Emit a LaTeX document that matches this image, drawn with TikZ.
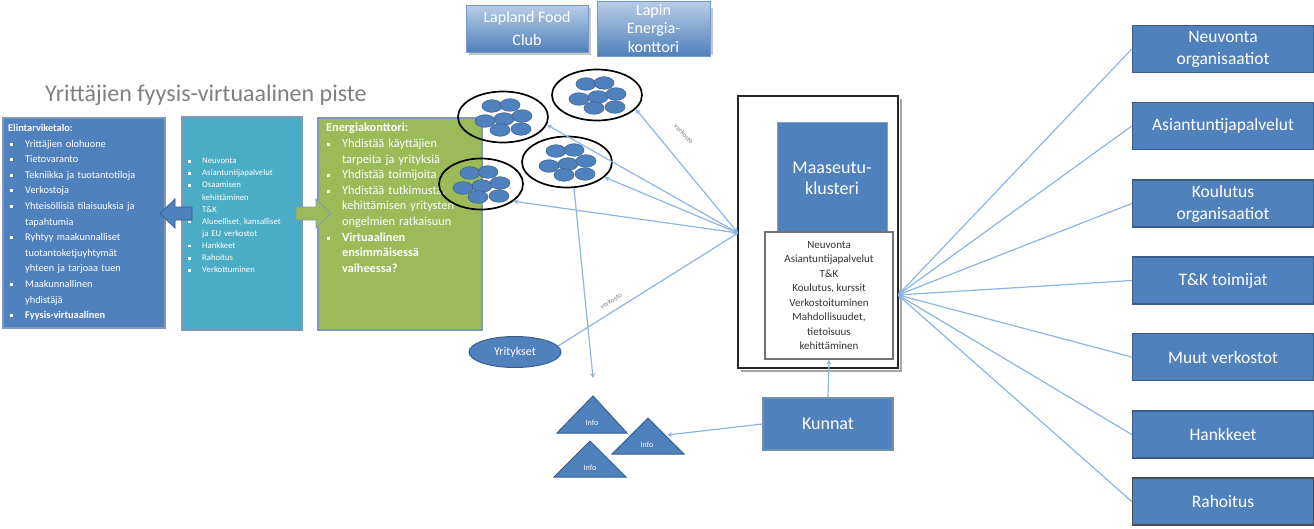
\documentclass[tikz,border=0pt]{standalone}
\usepackage{fontspec}
\setmainfont{Carlito}
\usetikzlibrary{arrows.meta,shapes.geometric}
\definecolor{obl}{HTML}{4F81BD}
\definecolor{obd}{HTML}{385D8A}
\definecolor{ocy}{HTML}{4BACC6}
\definecolor{ogr}{HTML}{9BBB59}
\definecolor{lnk}{HTML}{8EB4E3}
\definecolor{bdr}{HTML}{7F98B8}
\definecolor{ttl}{HTML}{7F7F7F}
\newcommand{\bul}{\makebox[17pt][l]{\hspace{2pt}\rule[1.5pt]{3pt}{3pt}}}
\newcommand{\cbul}{\hspace*{17pt}}
\newcommand{\mbul}{\makebox[15pt][l]{\hspace{1pt}\rule[1pt]{2.5pt}{2.5pt}}}
\newcommand{\mcont}{\hspace*{15pt}}
\newcommand{\gbul}{\makebox[16pt][l]{\hspace{1pt}\rule[1.5pt]{3pt}{3pt}}}
\newcommand{\gcont}{\hspace*{16pt}}
\begin{document}
\begin{tikzpicture}[x=1pt,y=-1pt,
  bigbox/.style={draw=bdr,line width=1.5pt},
  rbox/.style={fill=obl,draw=obd,line width=1.5pt,text=white,align=center,
    minimum width=181pt,minimum height=47pt,inner sep=2pt,font=\fontsize{17.5}{22}\selectfont},
  lnkline/.style={draw=lnk,line width=1.2pt},
  tipend/.style={-{Stealth[length=5pt,width=5pt]}},
  bothend/.style={{Stealth[length=5pt,width=5pt]}-{Stealth[length=5pt,width=5pt]}},
  clus/.style={draw=black,line width=1.7pt,ellipse,minimum width=90pt,minimum height=51pt,inner sep=0pt},
  small/.style={fill=obl,draw=obd,line width=0.5pt},
  tri/.style={fill=obl,draw=obd,line width=1pt},
  infot/.style={text=white,font=\fontsize{8}{9}\selectfont},
  lbl/.style={text=ttl,font=\fontsize{7}{8}\selectfont},
  cluster/.pic={
    \foreach \dx/\dy in {-11/-11,7/-12,-18/4,1/2,19/-1,-3/13,18/12}
      \filldraw[small] (\dx,\dy) ellipse [x radius=10pt, y radius=6.3pt];
  }]
\useasboundingbox (0,0) rectangle (1314,528);

% title
\node[anchor=west,text=ttl,font=\fontsize{24}{26}\selectfont,inner sep=0pt] (title) at (45,95) {Yrittäjien fyysis-virtuaalinen piste};

% left boxes
\draw[bigbox,fill=obl] (3,118) rectangle (165,328);
\draw[bigbox,fill=ocy] (182,117) rectangle (302,330);
\draw[bigbox,fill=ogr] (318,118) rectangle (482,330);

\node[anchor=north west,align=left,text=white,inner sep=0pt,text width=160pt,
  font=\fontsize{10.3}{15.6}\selectfont] (lt) at (8,124) {%
\textbf{Elintarviketalo:}\\
\bul Yrittäjien olohuone\\
\bul Tietovaranto\\
\bul Tekniikka ja tuotantotiloja\\
\bul Verkostoja\\
\bul Yhteisöllisiä tilaisuuksia ja\\
\cbul tapahtumia\\
\bul Ryhtyy maakunnalliset\\
\cbul tuotantoketjuyhtymät\\
\cbul yhteen ja tarjoaa tuen\\
\bul Maakunnallinen\\
\cbul yhdistäjä\\
\bul \textbf{Fyysis-virtuaalinen}};

\node[anchor=north west,align=left,text=white,inner sep=0pt,text width=115pt,
  font=\fontsize{8.7}{12.1}\selectfont] (mt) at (187,158) {%
\mbul Neuvonta\\
\mbul Asiantuntijapalvelut\\
\mbul Osaamisen\\
\mcont kehittäminen\\
\mbul T\&K\\
\mbul Alueelliset, kansalliset\\
\mcont ja EU verkostot\\
\mbul Hankkeet\\
\mbul Rahoitus\\
\mbul Verkottuminen};

\node[anchor=north west,align=left,text=white,inner sep=0pt,text width=160pt,
  font=\fontsize{12.3}{15.6}\selectfont] (gt) at (326,123) {%
\textbf{Energiakonttori:}\\
\gbul Yhdistää käyttäjien\\
\gcont tarpeita ja yrityksiä\\
\gbul Yhdistää toimijoita\\
\gbul Yhdistää tutkimusta,\\
\gcont kehittämisen yritysten\\
\gcont ongelmien ratkaisuun\\
\gbul \textbf{Virtuaalinen}\\
\gcont \textbf{ensimmäisessä}\\
\gcont \textbf{vaiheessa?}};

% block arrows
\filldraw[fill=obl,draw=obd,line width=0.8pt] (192,207) -- (175,207) -- (175,199) -- (160,213.5) -- (175,228) -- (175,220) -- (192,220) -- cycle;
\filldraw[fill=ogr,draw=bdr,line width=0.8pt] (296,207) -- (316,207) -- (316,199) -- (331,213.5) -- (316,228) -- (316,220) -- (296,220) -- cycle;

% top boxes
\fill[black!22] (469,8) rectangle (591,55);
\fill[black!22] (600,8) rectangle (713,55);
\node[top color=obl!40,bottom color=obl,draw=obl!80,minimum width=122pt,minimum height=47pt,
  text=white,align=center,font=\fontsize{16}{22}\selectfont] (lfc) at (527,28.5) {Lapland Food\\Club};
\node[top color=obl!40,bottom color=obl,draw=obl!80,minimum width=113pt,minimum height=47pt,
  text=white,align=center,font=\fontsize{16}{18.5}\selectfont] (lek) at (653.5,28.5) {Lapin\\Energia-\\konttori};

% clusters
\node[clus] (e1) at (503,117) {};
\node[clus] (e2) at (597,95) {};
\node[clus] (e3) at (567,162) {};
\node[clus,minimum width=84pt] (e4) at (481,184) {};
\pic at (503,117) {cluster};
\pic at (597,95) {cluster};
\pic at (567,162) {cluster};
\pic at (481,184) {cluster};

% frame
\draw[black!35,line width=2.5pt] (741,371) -- (901,371) -- (901,99);
\draw[black!85,line width=2.8pt] (738,96) rectangle (898,368);
\node[fill=obl,draw=obd!60,line width=1pt,minimum width=110pt,minimum height=110pt] (ms) at (832,177) {};
\node[text=white,align=center,font=\fontsize{18}{21}\selectfont] (mst) at (832,178) {Maaseutu-\\klusteri};
\node[fill=white,draw=black!55,line width=1.5pt,minimum width=128pt,minimum height=127pt,
  align=center,text=black!80,font=\fontsize{11}{14.5}\selectfont] (wb) at (829,295.5) {Neuvonta\\Asiantuntijapalvelut\\T\&K\\Koulutus, kurssit\\Verkostoituminen\\Mahdollisuudet,\\tietoisuus\\kehittäminen};

\coordinate (cL) at (738,233);
\coordinate (cR) at (898,295);

% right boxes
\node[rbox] (r1) at (1223,49) {Neuvonta\\organisaatiot};
\node[rbox] (r2) at (1223,126) {Asiantuntijapalvelut};
\node[rbox] (r3) at (1223,203.5) {Koulutus\\organisaatiot};
\node[rbox] (r4) at (1223,280.5) {T\&K toimijat};
\node[rbox] (r5) at (1223,357) {Muut verkostot};
\node[rbox] (r6) at (1223,434.5) {Hankkeet};
\node[rbox,draw=black!70] (r7) at (1223,501.5) {Rahoitus};
\foreach \r in {r1,r2,r3,r4,r5,r6,r7}
  \draw[lnkline,tipend] (\r.west) -- (cR);

% lines from clusters to frame
\draw[lnkline,bothend] (e1.-10) -- (cL);
\draw[lnkline,bothend] (e2.-20) -- (cL);
\draw[lnkline,bothend] (e3.-22) -- (cL);
\draw[lnkline,bothend] (e4.-28) -- (cL);

% Yritykset
\node[ellipse,fill=obl,draw=obd,line width=1pt,minimum width=92pt,minimum height=31pt,
  text=white,font=\fontsize{12}{13}\selectfont] (ey) at (515,352) {Yritykset};
\draw[lnkline] (ey.8) -- (cL);
\node[lbl,rotate=33] (v1) at (611,301) {verkosto};
\node[lbl,rotate=-46] (v2) at (684,134) {verkosto};

% vertical line to info
\coordinate (vd) at (593,378);
\draw[lnkline,tipend] (e3.-75) -- (vd);

% info triangles
\filldraw[tri] (557,433) -- (593,396) -- (627,433) -- cycle;
\filldraw[tri] (612,454) -- (648,418) -- (684,454) -- cycle;
\filldraw[tri] (554,477) -- (590,441) -- (626,477) -- cycle;
\node[infot] (t1) at (592,423) {Info};
\node[infot] (t2) at (647,445) {Info};
\node[infot] (t3) at (590,468) {Info};
\coordinate (t2r) at (667,435);

% Kunnat
\node[fill=obl,draw=obd!70,line width=1.5pt,minimum width=130pt,minimum height=52pt,
  text=white,font=\fontsize{18}{20}\selectfont] (kun) at (828,424) {Kunnat};
\draw[lnkline,tipend] (kun.west) -- (t2r);
\draw[lnkline,tipend] (kun.north) -- (wb.south);
\end{tikzpicture}
\end{document}
